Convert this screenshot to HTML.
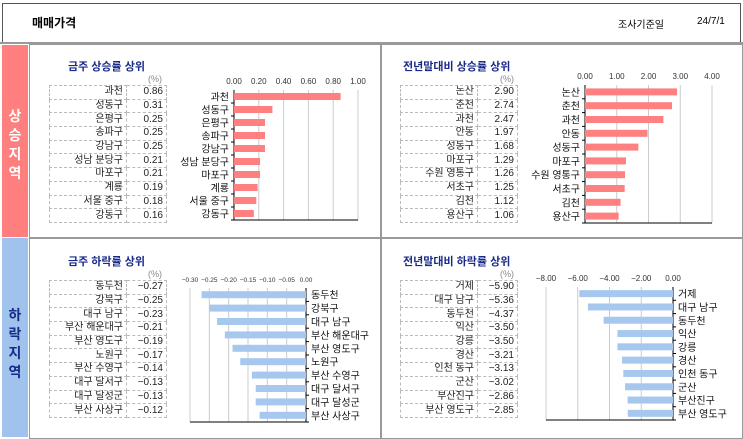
<!DOCTYPE html>
<html><head><meta charset="utf-8">
<style>
body{margin:0;width:743px;height:439px;background:#fff;position:relative;overflow:hidden;font-family:"Liberation Sans","Noto Sans CJK KR","NanumGothic",sans-serif;}
.abs{position:absolute;}
.hdr{left:2px;top:3px;width:737px;height:38px;border:1px solid #555;box-sizing:content-box;}
.panel{position:absolute;border:1px solid #999;background:#fff;}
.title{position:absolute;font-size:11px;font-weight:bold;color:#1a2a8a;}
.pct{position:absolute;font-size:9px;color:#888;}
table{position:absolute;border-collapse:collapse;font-size:10px;color:#222;}
td{border:1px dashed #bbb;padding:0 3px;text-align:right;height:12.7px;line-height:12px;}
.side{position:absolute;left:2px;width:26px;font-size:14px;font-weight:bold;text-align:center;line-height:19px;}
svg{position:absolute;left:0;top:0;}
</style></head><body>
<div class="abs hdr"></div>
<div class="abs" style="left:32px;top:14px;font-size:12px;font-weight:bold">매매가격</div>
<div class="abs" style="left:618px;top:16px;font-size:10px">조사기준일</div>
<div class="abs" style="left:697px;top:16px;font-size:10px">24/7/1</div>
<div class="abs" style="left:0;top:42px;width:743px;height:2px;background:#999"></div>

<div class="side" style="top:45px;height:192px;background:#ff7f7f;color:#fff;padding-top:0"><div style="margin-top:62px">상<br>승<br>지<br>역</div></div>
<div class="side" style="top:238px;height:199px;background:#9fc3ec;color:#1a2a8a"><div style="margin-top:68px">하<br>락<br>지<br>역</div></div>

<div class="panel" style="left:29px;top:44px;width:350px;height:192px"></div>
<div class="panel" style="left:381px;top:44px;width:360px;height:192px"></div>
<div class="panel" style="left:29px;top:238px;width:350px;height:199px"></div>
<div class="panel" style="left:381px;top:238px;width:360px;height:199px"></div>

<div class="title" style="left:68px;top:58px">금주 상승률 상위</div>
<div class="title" style="left:403px;top:58px">전년말대비 상승률 상위</div>
<div class="title" style="left:68px;top:253px">금주 하락률 상위</div>
<div class="title" style="left:403px;top:253px">전년말대비 하락률 상위</div>
<div class="pct" style="left:148px;top:74px">(%)</div>
<div class="pct" style="left:500px;top:74px">(%)</div>
<div class="pct" style="left:148px;top:269px">(%)</div>
<div class="pct" style="left:500px;top:269px">(%)</div>

<svg id="chart" width="743" height="439"></svg>

<script>
const c1Cats=["과천","성동구","은평구","송파구","강남구","성남 분당구","마포구","계룡","서울 중구","강동구"];
const c1Vals=[0.86,0.31,0.25,0.25,0.25,0.21,0.21,0.19,0.18,0.16];
const c1Ticks=[0,0.2,0.4,0.6,0.8,1.0];
const c2Cats=["논산","춘천","과천","안동","성동구","마포구","수원 영통구","서초구","김천","용산구"];
const c2Vals=[2.90,2.74,2.47,1.97,1.68,1.29,1.26,1.25,1.12,1.06];
const c2Ticks=[0,1,2,3,4];
const c3Cats=["동두천","강북구","대구 남구","부산 해운대구","부산 영도구","노원구","부산 수영구","대구 달서구","대구 달성군","부산 사상구"];
const c3Vals=[-0.27,-0.25,-0.23,-0.21,-0.19,-0.17,-0.14,-0.13,-0.13,-0.12];
const c3Ticks=[-0.30,-0.25,-0.20,-0.15,-0.10,-0.05,0];
const c4Cats=["거제","대구 남구","동두천","익산","강릉","경산","인천 동구","군산","부산진구","부산 영도구"];
const c4Vals=[-5.90,-5.36,-4.37,-3.50,-3.50,-3.21,-3.13,-3.02,-2.86,-2.85];
const c4Ticks=[-8,-6,-4,-2,0];

const NS="http://www.w3.org/2000/svg";
const svg=document.getElementById('chart');
function mk(tag,attrs,parent){const e=document.createElementNS(NS,tag);for(const k in attrs)e.setAttribute(k,attrs[k]);(parent||svg).appendChild(e);return e;}

function table(x,y,cats,vals,name){
  const t=document.createElement('table');
  
  
  t.style.left=x+'px';t.style.top=y+'px';
  cats.forEach((c,i)=>{
    const tr=document.createElement('tr');
    const a=document.createElement('td');a.textContent=c;a.style.width='70px';
    
    
    const b=document.createElement('td');b.textContent=vals[i].toFixed(2).replace('-','−');b.style.width='33px';
    
    
    tr.appendChild(a);tr.appendChild(b);t.appendChild(tr);
  });
  document.body.appendChild(t);
}

function chart(o){
  const sx=v=>o.x0+(v-o.min)/(o.max-o.min)*(o.x1-o.x0);
  const band=(o.y1-o.y0)/o.cats.length;
  const g=mk('g',{});
  
  
  o.ticks.forEach(t=>{
    const x=sx(t);
    const gl=mk('line',{x1:x,x2:x,y1:o.y0,y2:o.y1,stroke:'#ccc','stroke-width':1},g);
    
    
    const tx=mk('text',{x:x,y:o.y0-6,'font-size':o.tickFs||8,'text-anchor':'middle',fill:'#333'},g);
    tx.textContent=(t===0?'0.00':t.toFixed(2).replace('-','−'));
    
    
  });
  const zero=sx(0);
  const ax=mk('line',{x1:zero,x2:zero,y1:o.y0,y2:o.y1,stroke:'#000','stroke-width':1},g);
  
  
  const bx=mk('line',{x1:o.x0,x2:o.x1,y1:o.y1,y2:o.y1,stroke:'#000','stroke-width':1},g);
  
  
  o.cats.forEach((c,i)=>{
    const yc=o.y0+band*(i+0.5);
    const v=o.vals[i];
    const xa=Math.min(sx(v),zero),xb=Math.max(sx(v),zero);
    const r=mk('rect',{x:xa,y:yc-3.5,width:xb-xa,height:7,fill:o.color},g);
    
    
    const tk=mk('line',{x1:zero-(o.neg?-3:3),x2:zero,y1:o.y0+band*(i+1),y2:o.y0+band*(i+1),stroke:'#000'},g);
    
    
    const lx=o.neg?zero+5:zero-5;
    const t=mk('text',{x:lx,y:yc+4,'font-size':10,'text-anchor':o.neg?'start':'end',fill:'#111'},g);
    t.textContent=c;
    
    
  });
}

table(49,85,c1Cats,c1Vals,'weekly-rise-table');
table(400,85,c2Cats,c2Vals,'yearly-rise-table');
table(49,280,c3Cats,c3Vals,'weekly-fall-table');
table(400,280,c4Cats,c4Vals,'yearly-fall-table');

chart({name:'weekly-rise-chart',x0:234,x1:358,y0:90,y1:220,min:0,max:1,ticks:c1Ticks,cats:c1Cats,vals:c1Vals,color:'#ff8080',neg:false});
chart({name:'yearly-rise-chart',x0:585,x1:712,y0:85,y1:223,min:0,max:4,ticks:c2Ticks,cats:c2Cats,vals:c2Vals,color:'#ff8080',neg:false});
chart({name:'weekly-fall-chart',x0:190,x1:306,y0:288,y1:422,min:-0.3,max:0,ticks:c3Ticks,cats:c3Cats,vals:c3Vals,color:'#a6c8ef',neg:true,tickFs:6.5});
chart({name:'yearly-fall-chart',x0:546,x1:673,y0:287,y1:420,min:-8,max:0,ticks:c4Ticks,cats:c4Cats,vals:c4Vals,color:'#a6c8ef',neg:true});
</script>
</body></html>
